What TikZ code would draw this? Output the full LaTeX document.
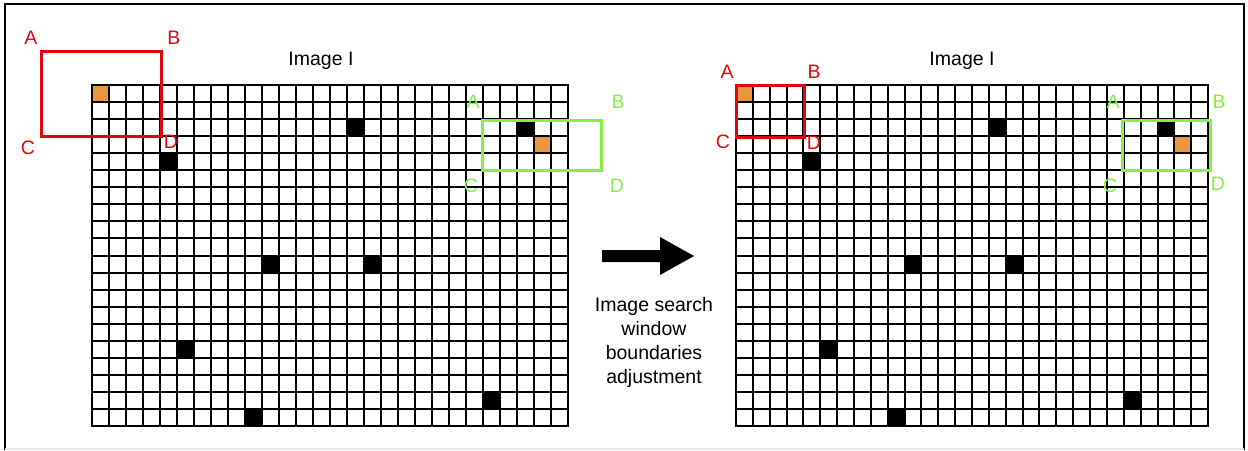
\documentclass[tikz,border=0pt]{standalone}
\usepackage{fontspec}
\setmainfont{Liberation Sans}
\definecolor{winred}{RGB}{226,6,12}
\definecolor{wingreen}{RGB}{132,240,70}
\definecolor{pixorange}{RGB}{232,152,62}
\tikzset{
  gridline/.style={line width=2.2pt, black, line cap=rect},
  redwin/.style={line width=3pt, winred},
  greenwin/.style={line width=3pt, wingreen},
  cornerred/.style={text=winred, font=\fontsize{19.5}{24}\selectfont, inner sep=0pt},
  cornergreen/.style={text=wingreen, font=\fontsize{19.5}{24}\selectfont, inner sep=0pt},
  title/.style={font=\fontsize{19.5}{24}\selectfont, inner sep=0pt},
}
% #1 = left edge, #2 = top edge, #3 = cell width, #4 = cell height (28 x 20 pixels)
% positions are rounded to whole points so every line is equally crisp
\newcommand\pixelimage[4]{%
  \foreach \c/\r/\col in {0/0/pixorange, 26/3/pixorange, 4/4/black, 15/2/black,
      25/2/black, 10/10/black, 16/10/black, 5/15/black, 9/19/black, 23/18/black}{
    \pgfmathsetmacro{\xa}{round(#1+\c*#3)}
    \pgfmathsetmacro{\xb}{round(#1+(\c+1)*#3)}
    \pgfmathsetmacro{\ya}{round(#2+\r*#4)}
    \pgfmathsetmacro{\yb}{round(#2+(\r+1)*#4)}
    \fill[\col] (\xa,\ya) rectangle (\xb,\yb);
  }
  \pgfmathsetmacro{\xr}{round(#1+28*#3)}
  \pgfmathsetmacro{\yr}{round(#2+20*#4)}
  \foreach \i in {0,...,28}{
    \pgfmathsetmacro{\xx}{round(#1+\i*#3)}
    \draw[gridline] (\xx,#2) -- (\xx,\yr);
  }
  \foreach \j in {0,...,20}{
    \pgfmathsetmacro{\yy}{round(#2+\j*#4)}
    \draw[gridline] (#1,\yy) -- (\xr,\yy);
  }
}
\begin{document}
\begin{tikzpicture}[x=1pt,y=-1pt]
  \useasboundingbox (0,0) rectangle (1248,450);
  % outer frame
  \draw[line width=2pt] (5,450) -- (5,3.5) -- (1244,3.5) -- (1244,450);
  \draw[line width=1.5pt, black!10] (5,449) -- (1244,449);

  % ---- left image ----
  \pixelimage{92}{85}{17}{17.05}
  \node[title] (ttl) at (321,61) {Image I};
  \draw[redwin] (41,51) rectangle (161,136);
  \node[cornerred] (rA) at (31,38) {A};
  \node[cornerred] (rB) at (174,38) {B};
  \node[cornerred] (rC) at (28,148) {C};
  \node[cornerred] (rD) at (171,142) {D};
  \draw[greenwin] (482,120) rectangle (601,170);
  \node[cornergreen] (gA) at (473,102) {A};
  \node[cornergreen] (gB) at (618,102) {B};
  \node[cornergreen] (gC) at (471,186) {C};
  \node[cornergreen] (gD) at (617,186) {D};

  % ---- transition arrow ----
  \fill (602,250) -- (660,250) -- (660,237) -- (694,256) -- (660,275)
        -- (660,262) -- (602,262) -- cycle;
  \node[title, align=center] (cap) at (654,342)
    {Image search\\window\\boundaries\\adjustment};

  % ---- right image ----
  \pixelimage{736}{85}{16.86}{17.05}
  \node[title] (ttr) at (962,61) {Image I};
  \draw[redwin] (736,85) rectangle (804,137);
  \node[cornerred] (RA) at (727,72) {A};
  \node[cornerred] (RB) at (814,72) {B};
  \node[cornerred] (RC) at (723,142) {C};
  \node[cornerred] (RD) at (814,143) {D};
  \draw[greenwin] (1122,120) rectangle (1210,170);
  \node[cornergreen] (GA) at (1113,102) {A};
  \node[cornergreen] (GB) at (1219,102) {B};
  \node[cornergreen] (GC) at (1110,186) {C};
  \node[cornergreen] (GD) at (1218,184) {D};
\end{tikzpicture}
\end{document}
